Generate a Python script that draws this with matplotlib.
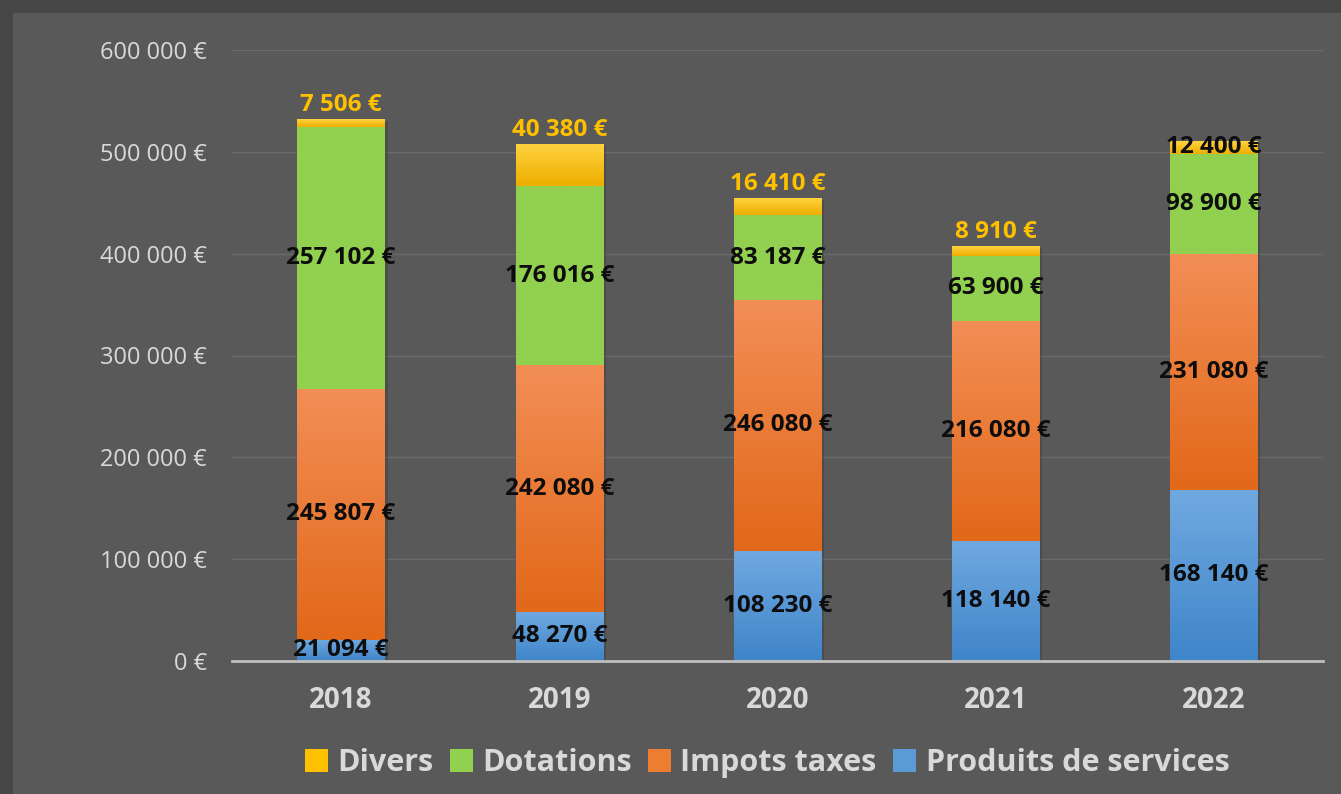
import numpy as np
import matplotlib
matplotlib.use("Agg")
import matplotlib.pyplot as plt
from matplotlib.colors import LinearSegmentedColormap
from matplotlib.patches import Rectangle, Patch
import matplotlib.patheffects as pe

years = ["2018", "2019", "2020", "2021", "2022"]
produits = [21094, 48270, 108230, 118140, 168140]
impots = [245807, 242080, 246080, 216080, 231080]
dotations = [257102, 176016, 83187, 63900, 98900]
divers = [7506, 40380, 16410, 8910, 12400]

series = [
    ("Produits de services", produits, "#5b9bd5", ("#3f85c9", "#70a9e0")),
    ("Impots taxes", impots, "#ed7d31", ("#e2681a", "#f28e55")),
    ("Dotations", dotations, "#92d050", ("#92d050", "#92d050")),
    ("Divers", divers, "#ffc000", ("#eeae00", "#ffd240")),
]


def euro(v):
    return "{:,}".format(int(v)).replace(",", " ") + " €"


plt.rcParams["font.family"] = ["Open Sans", "DejaVu Sans"]

fig = plt.figure(figsize=(13.41, 7.94), dpi=100, facecolor="#474747")
fig.patches.append(Rectangle((13 / 1341, 0), 1, 1 - 13 / 794, transform=fig.transFigure,
                             facecolor="#595959", edgecolor="none", zorder=-5))
ax = fig.add_axes([232 / 1341, 1 - 661 / 794, (1323 - 232) / 1341, (661 - 50) / 794])
ax.set_facecolor("none")
ax.set_zorder(2)

x = np.arange(len(years))
w = 0.4
bottom = np.zeros(len(years))
shadow = [pe.SimplePatchShadow(offset=(2, -1), alpha=0.22, shadow_rgbFace="#202020"), pe.Normal()]

for name, vals, col, (c_bot, c_top) in series:
    vals = np.array(vals, dtype=float)
    bars = ax.bar(x, vals, w, bottom=bottom, color=col, zorder=2)
    cmap = LinearSegmentedColormap.from_list(name, [c_bot, c_top])
    grad = np.linspace(0, 1, 64).reshape(-1, 1)
    for b in bars:
        b.set_path_effects(shadow)
        ax.imshow(grad, extent=[b.get_x(), b.get_x() + b.get_width(), b.get_y(), b.get_y() + b.get_height()],
                  origin="lower", aspect="auto", cmap=cmap, zorder=3, interpolation="bicubic")
    for i, v in enumerate(vals):
        mid = bottom[i] + v / 2
        if name == "Divers" and i < 4:
            ax.annotate(euro(v), (x[i], bottom[i] + v), xytext=(0, 2), textcoords="offset points",
                        ha="center", va="bottom", fontsize=17.5, fontweight="bold", color="#ffc000", zorder=5)
        else:
            ax.text(x[i], mid, euro(v), ha="center", va="center", fontsize=17.5,
                    fontweight="bold", color="#0d0d0d", zorder=5)
    bottom += vals

ax.set_xlim(-0.5, len(years) - 0.5)
ax.set_ylim(0, 600000)
ax.set_yticks(np.arange(0, 600001, 100000))
ax.set_yticklabels([euro(t) for t in np.arange(0, 600001, 100000)], fontsize=17, color="#d9d9d9")
ax.set_xticks(x)
ax.set_xticklabels(years, fontsize=20, fontweight="bold", color="#d9d9d9")
ax.tick_params(axis="both", length=0)
ax.tick_params(axis="x", pad=18)
ax.tick_params(axis="y", pad=18)
ax.grid(axis="y", color="#6a6a6a", linewidth=1, zorder=0)
ax.set_axisbelow(True)
for s in ["top", "right", "left"]:
    ax.spines[s].set_visible(False)
ax.spines["bottom"].set_color("#bfbfbf")
ax.spines["bottom"].set_linewidth(2)
ax.spines["bottom"].set_zorder(6)

handles = [Patch(facecolor=c, edgecolor="none") for _, _, c, _ in series][::-1]
labels = [n for n, _, _, _ in series][::-1]
fig.legend(handles, labels, loc="center", bbox_to_anchor=(0.572, 0.039), ncol=4, frameon=False,
           labelcolor="#d9d9d9", prop={"weight": "bold", "size": 22},
           handlelength=0.75, handleheight=0.75, handletextpad=0.3, columnspacing=0.55)

fig.savefig("out.png", dpi=100, facecolor=fig.get_facecolor())
